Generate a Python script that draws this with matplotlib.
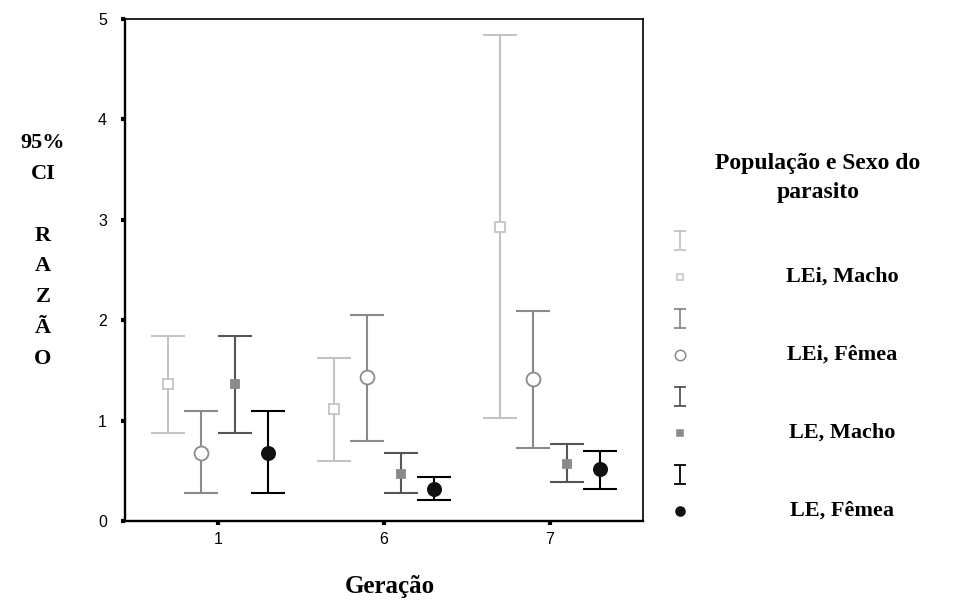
import matplotlib
matplotlib.use("Agg")
import matplotlib.pyplot as plt
import numpy as np

# dados (IC 95% da razão por geração)
geracoes = ["1", "6", "7"]
grupos = ["LEi, Macho", "LEi, Fêmea", "LE, Macho", "LE, Fêmea"]

media_lei_macho = [1.36, 1.12, 2.93]
inf_lei_macho = [0.88, 0.60, 1.03]
sup_lei_macho = [1.84, 1.62, 4.84]

media_lei_femea = [0.68, 1.43, 1.41]
inf_lei_femea = [0.28, 0.80, 0.73]
sup_lei_femea = [1.10, 2.05, 2.09]

media_le_macho = [1.36, 0.47, 0.57]
inf_le_macho = [0.88, 0.28, 0.39]
sup_le_macho = [1.84, 0.68, 0.77]

media_le_femea = [0.68, 0.32, 0.52]
inf_le_femea = [0.28, 0.21, 0.32]
sup_le_femea = [1.10, 0.44, 0.70]

medias = [media_lei_macho, media_lei_femea, media_le_macho, media_le_femea]
inferiores = [inf_lei_macho, inf_lei_femea, inf_le_macho, inf_le_femea]
superiores = [sup_lei_macho, sup_lei_femea, sup_le_macho, sup_le_femea]

# estilo de cada grupo
cores_linha = ["#c4c4c4", "#8a8a8a", "#555555", "#000000"]
marcadores = ["s", "o", "s", "o"]
faces = ["white", "white", "#8a8a8a", "#111111"]
bordas = ["#c4c4c4", "#8a8a8a", "#8a8a8a", "#111111"]
tam_marcador = [7, 10, 6, 9.5]
tam_legenda = [5, 7.5, 4.5, 6.5]
deslocamentos = [-0.3, -0.1, 0.1, 0.3]

serif = "Liberation Serif"
sans = "Liberation Sans"

fig = plt.figure(figsize=(9.69, 6.04), dpi=100)
ax = fig.add_axes([125 / 969, 83 / 604, 518 / 969, 502 / 604])

x = np.arange(len(geracoes))
for i in range(len(grupos)):
    m = np.array(medias[i])
    lo = m - np.array(inferiores[i])
    hi = np.array(superiores[i]) - m
    ax.errorbar(
        x + deslocamentos[i], m, yerr=[lo, hi],
        fmt="none", ecolor=cores_linha[i], elinewidth=1.5,
        capsize=12.2, capthick=1.5, zorder=2,
    )
    ax.plot(
        x + deslocamentos[i], m, ls="none", marker=marcadores[i],
        ms=tam_marcador[i], mfc=faces[i], mec=bordas[i], mew=1.3, zorder=3,
    )

ax.set_xlim(-0.56, 2.56)
ax.set_ylim(0, 5)
ax.set_xticks(x)
ax.set_xticklabels(geracoes)
ax.set_yticks(range(6))
ax.tick_params(direction="out", length=3, width=3, labelsize=11.5)
ax.tick_params(axis="y", pad=10)
ax.tick_params(axis="x", pad=5)
for lab in ax.get_xticklabels() + ax.get_yticklabels():
    lab.set_family(sans)
for lado in ["left", "bottom"]:
    ax.spines[lado].set_linewidth(1.7)
for lado in ["top", "right"]:
    ax.spines[lado].set_linewidth(1.2)

fig.text(390 / 969, 1 - 587 / 604, "Geração", family=serif, fontweight="bold",
         fontsize=18, ha="center", va="center")

fig.text(43 / 969, 1 - 251 / 604, "95%\nCI\n\nR\nA\nZ\nÃ\nO", family=serif,
         fontweight="bold", fontsize=16, ha="center", va="center",
         linespacing=1.73, multialignment="center")

# legenda montada à direita
fig.text(818 / 969, 1 - 178 / 604, "População e Sexo do\nparasito", family=serif,
         fontweight="bold", fontsize=17, ha="center", va="center",
         linespacing=1.45, multialignment="center")

lax = fig.add_axes([0, 0, 1, 1])
lax.set_xlim(0, 969)
lax.set_ylim(604, 0)
lax.axis("off")
for i in range(len(grupos)):
    y_barra = 240 + i * 78
    y_item = y_barra + 37
    lax.errorbar([680], [y_barra], yerr=[[9.5], [9.5]], fmt="none",
                 ecolor=cores_linha[i], elinewidth=1.3, capsize=4.5, capthick=1.3)
    lax.plot([680], [y_item], ls="none", marker=marcadores[i], ms=tam_legenda[i],
             mfc=faces[i], mec=bordas[i], mew=1.1)
    fig.text(842 / 969, 1 - y_item / 604, grupos[i], family=serif, fontweight="bold",
             fontsize=16, ha="center", va="center")

fig.savefig("out.png", dpi=100)
